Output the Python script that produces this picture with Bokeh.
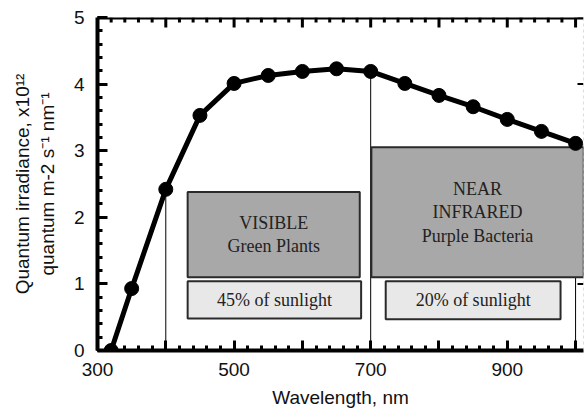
import math
from bokeh.plotting import figure
from bokeh.models import SingleIntervalTicker, Range1d, ColumnDataSource, Span
from bokeh.core.properties import value
from bokeh.embed import file_html
from bokeh.resources import INLINE

# data
wavelength = [320, 350, 400, 450, 500, 550, 600, 650, 700, 750, 800, 850, 900, 950, 1000]
irradiance = [0.0, 0.93, 2.42, 3.53, 4.01, 4.13, 4.19, 4.23, 4.19, 4.01, 3.83, 3.66, 3.47, 3.29, 3.11]
divider_wl = [400, 700, 1000]

band_left = [432, 701]
band_right = [684, 1012]
band_top = [2.38, 3.05]
band_bottom = [1.10, 1.10]
band_lines = [["VISIBLE", "Green Plants"], ["NEAR", "INFRARED", "Purple Bacteria"]]

share_left = [432, 722]
share_right = [686, 978]
share_top = [1.04, 1.04]
share_bottom = [0.48, 0.47]
share_text = ["45% of sunlight", "20% of sunlight"]

X0, X1 = 300, 1011.6
Y0, Y1 = 0, 5
x_major = list(range(300, 1001, 100))
x_minor = [v for v in range(300, 1011, 20) if v % 100]
y_major = [0, 1, 2, 3, 4, 5]
x_blank = [400, 600, 800, 1000]

SANS = "Liberation Sans"
SERIF = "Liberation Serif"

p = figure(width=584, height=410, output_backend="svg", toolbar_location=None,
           x_range=Range1d(X0, X1), y_range=Range1d(Y0, Y1),
           min_border_left=97, min_border_right=1, min_border_top=17, min_border_bottom=57,
           x_axis_label="Wavelength, nm",
           y_axis_label="Quantum irradiance, x10\u00b9\u00b2\nquantum m-2 s\u207b\u00b9 nm\u207b\u00b9")
p.grid.visible = False
p.outline_line_color = None
p.background_fill_color = "white"

p.xaxis.ticker = SingleIntervalTicker(interval=100, num_minor_ticks=5)
p.yaxis.ticker = SingleIntervalTicker(interval=1, num_minor_ticks=5)
p.xaxis.major_label_overrides = {v: "" for v in x_blank}

for ax in (p.xaxis, p.yaxis):
    ax.axis_line_width = 4
    ax.axis_line_color = "black"
    ax.major_tick_in = 10
    ax.major_tick_out = 0
    ax.minor_tick_in = 5
    ax.minor_tick_out = 0
    ax.major_tick_line_width = 3
    ax.minor_tick_line_width = 3
    ax.major_tick_line_color = "black"
    ax.minor_tick_line_color = "black"
    ax.major_label_text_font = SANS
    ax.major_label_text_font_size = "19px"
    ax.major_label_text_color = "#111111"
    ax.axis_label_text_font = SANS
    ax.axis_label_text_font_size = "19px"
    ax.axis_label_text_font_style = "normal"
    ax.axis_label_text_color = "#111111"
p.yaxis.major_label_standoff = 13
p.yaxis.axis_label_standoff = 13
p.xaxis.major_label_standoff = 12
p.xaxis.axis_label_standoff = 8

# top frame line and faint right edge
p.add_layout(Span(location=Y1, dimension="width", line_color="black", line_width=4))
p.add_layout(Span(location=X1, dimension="height", line_color="#bbbbbb", line_width=1,
                  line_dash="3 3"))

# inward tick marks on the top and right edges
def ticks(xs, ys, angle, length, width):
    p.ray(x=xs, y=ys, length=length, length_units="screen", angle=angle,
          line_color="black", line_width=width)

ticks(x_major, [Y1] * len(x_major), -math.pi / 2, 10, 3)
ticks(x_minor, [Y1] * len(x_minor), -math.pi / 2, 5, 3)
ticks([X1] * len(y_major), y_major, math.pi, 6, 2)

# divider lines
lookup = dict(zip(wavelength, irradiance))
p.segment(x0=divider_wl, y0=[0] * len(divider_wl), x1=divider_wl,
          y1=[lookup[w] for w in divider_wl], line_color="black", line_width=1)

# band boxes
p.quad(left=band_left, right=band_right, top=band_top, bottom=band_bottom,
       fill_color="#a8a8a8", line_color="#2a2a2a", line_width=2)
p.quad(left=share_left, right=share_right, top=share_top, bottom=share_bottom,
       fill_color="#e8e8e8", line_color="#2a2a2a", line_width=2)

tx, ty, tt = [], [], []
for l, r, t, b, lines in zip(band_left, [684, 1012], band_top, band_bottom, band_lines):
    cx = (l + r) / 2
    cy = (t + b) / 2
    step = 0.35
    n = len(lines)
    for i, s in enumerate(lines):
        tx.append(cx)
        ty.append(cy + (n - 1) / 2 * step - i * step)
        tt.append(s)
for l, r, t, b, s in zip(share_left, share_right, share_top, share_bottom, share_text):
    tx.append((l + r) / 2)
    ty.append((t + b) / 2)
    tt.append(s)
p.text(x=tx, y=ty, text=tt, text_font=value(SERIF), text_font_size="18px",
       text_color="#222222", text_align="center", text_baseline="middle")

# curve
src = ColumnDataSource(dict(x=wavelength, y=irradiance))
p.line("x", "y", source=src, line_color="black", line_width=5)
p.scatter("x", "y", source=src, size=14, fill_color="black", line_color="black")

open("out.html", "w").write(file_html(p, INLINE))
